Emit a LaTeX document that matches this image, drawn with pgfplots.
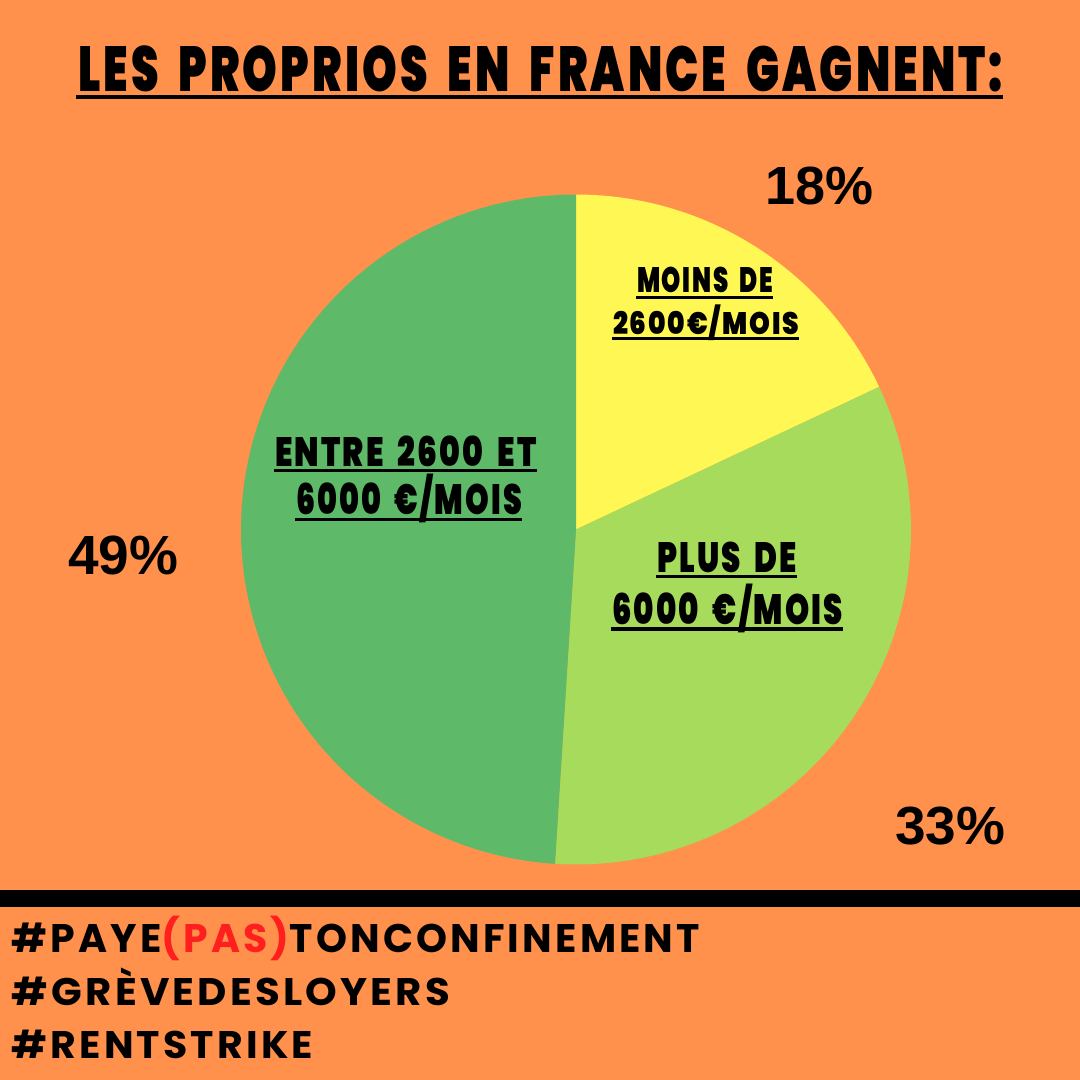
\documentclass[border=0pt]{standalone}
\usepackage{pgfplots}
\pgfplotsset{compat=1.18}
\usepackage{pgfplotstable}
\usepackage{graphicx}
\usepackage{fontspec}
\setmainfont{Liberation Sans}
\IfFontExistsTF{Poppins Black}{\newfontfamily\heavy{Poppins Black}[LetterSpace=7]}{\newfontfamily\heavyx{Liberation Sans}[LetterSpace=7]\def\heavy{\heavyx\bfseries}}
\newfontfamily\tagfont{Poppins}[LetterSpace=8]
\newfontfamily\pctfont{Liberation Sans}

\definecolor{bgorange}{HTML}{FF914D}
\definecolor{pieyellow}{HTML}{FFF854}
\definecolor{pielight}{HTML}{A6DB5C}
\definecolor{piedark}{HTML}{5EBA68}
\definecolor{tagred}{HTML}{FF1F1F}

\newcommand\ws{\hspace{0.45em}}
\newlength\fw \newlength\fh
\newcommand\fitcap[3]{\begingroup\settowidth\fw{#3}\settoheight\fh{H}%
  \pgfmathsetmacro\sx{#1/\fw}\pgfmathsetmacro\sy{#2/\fh}%
  \scalebox{\sx}[\sy]{#3}\endgroup}

\pgfplotstableread{
label share
low 18
high 33
mid 49
}\piedata
\pgfplotstablegetelem{0}{share}\of\piedata \let\sA\pgfplotsretval
\pgfplotstablegetelem{1}{share}\of\piedata \let\sB\pgfplotsretval
\pgfplotstablegetelem{2}{share}\of\piedata \let\sC\pgfplotsretval
\pgfmathsetmacro\aA{90}
\pgfmathsetmacro\aB{\aA-3.6*\sA}
\pgfmathsetmacro\aC{\aB-3.6*\sB}
\pgfmathsetmacro\aD{\aC-3.6*\sC}

\begin{document}
\begin{tikzpicture}
\useasboundingbox (0,0) rectangle (10.8,10.8);
\fill[bgorange] (0,0) rectangle (10.8,10.8);

\begin{axis}[at={(5.76cm,5.505cm)}, anchor=center, width=6.7cm, height=6.7cm,
  scale only axis, hide axis, clip=false,
  xmin=-3.35, xmax=3.35, ymin=-3.35, ymax=3.35]
\addplot[fill=pieyellow, draw=none, domain=\aB:\aA, samples=90, variable=\t]
  ({3.35*cos(\t)},{3.35*sin(\t)}) -- (axis cs:0,0) -- cycle;
\addplot[fill=pielight, draw=none, domain=\aC:\aB, samples=120, variable=\t]
  ({3.35*cos(\t)},{3.35*sin(\t)}) -- (axis cs:0,0) -- cycle;
\addplot[fill=piedark, draw=none, domain=\aD:\aC, samples=160, variable=\t]
  ({3.35*cos(\t)},{3.35*sin(\t)}) -- (axis cs:0,0) -- cycle;
\end{axis}

% title
\node[anchor=base west, inner sep=0, outer sep=0, font=\heavy] at (0.78,9.88) {\fitcap{9.25cm}{0.45cm}{LES\ws PROPRIOS\ws EN\ws FRANCE\ws GAGNENT:}};
\fill[black] (0.76,9.85) rectangle (10.03,9.81);

% slice labels
\tikzset{lab/.style={anchor=base west, inner sep=0, outer sep=0, font=\heavy}}
\node[lab] at (6.37,7.87) {\fitcap{1.36cm}{0.25cm}{MOINS\ws DE}};
\fill[black] (6.36,7.84) rectangle (7.73,7.81);
\node[lab] at (6.13,7.45) {\fitcap{1.86cm}{0.22cm}{2600€/MOIS}};
\fill[black] (6.12,7.43) rectangle (7.99,7.40);

\node[lab] at (2.75,6.13) {\fitcap{2.62cm}{0.29cm}{ENTRE\ws 2600\ws ET}};
\fill[black] (2.74,6.11) rectangle (5.37,6.08);
\node[lab] at (2.96,5.65) {\fitcap{2.26cm}{0.30cm}{6000\ws €/MOIS}};
\fill[black] (2.95,5.62) rectangle (5.22,5.59);

\node[lab] at (6.57,5.07) {\fitcap{1.40cm}{0.30cm}{PLUS\ws DE}};
\fill[black] (6.56,5.05) rectangle (7.97,5.02);
\node[lab] at (6.12,4.55) {\fitcap{2.31cm}{0.30cm}{6000\ws €/MOIS}};
\fill[black] (6.11,4.53) rectangle (8.43,4.49);

% percentages
\tikzset{pct/.style={anchor=base west, inner sep=0, outer sep=0, font=\pctfont\bfseries}}
\node[pct] at (7.65,8.75) {\fitcap{1.08cm}{0.37cm}{18\%}};
\node[pct] at (0.68,5.05) {\fitcap{1.10cm}{0.38cm}{49\%}};
\node[pct] at (8.95,2.35) {\fitcap{1.10cm}{0.37cm}{33\%}};

% bar
\fill[black] (0,1.90) rectangle (10.8,1.73);

% hashtags
\tikzset{tag/.style={anchor=base west, inner sep=0, outer sep=0, font=\tagfont\bfseries}}
\node[tag] at (0.12,1.27) {\fitcap{6.88cm}{0.28cm}{\#PAYE\textcolor{tagred}{(PAS)}TONCONFINEMENT}};
\node[tag] at (0.12,0.75) {\fitcap{4.38cm}{0.27cm}{\#GRÈVEDESLOYERS}};
\node[tag] at (0.12,0.22) {\fitcap{3.01cm}{0.27cm}{\#RENTSTRIKE}};
\end{tikzpicture}
\end{document}
